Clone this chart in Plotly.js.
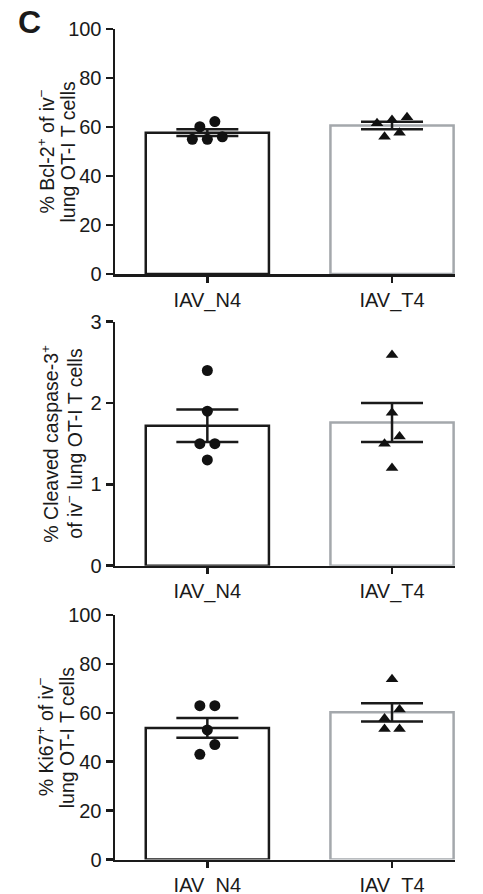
<!DOCTYPE html>
<html>
<head>
<meta charset="utf-8">
<script src="https://cdn.plot.ly/plotly-3.0.1.min.js"></script>
<style>html,body{margin:0;padding:0;background:#fff;}#chart{width:483px;height:894px;}</style>
</head>
<body>
<div id="chart"></div>
<script>
// ---- data ----
const categories = ['IAV_N4', 'IAV_T4'];

const bcl2_N4 = [62.2, 60.1, 56.0, 55.0, 55.0];
const bcl2_T4 = [64.0, 62.9, 61.5, 57.7, 56.0];
const bcl2_mean = [57.7, 60.6];
const bcl2_sem = [1.35, 1.5];

const casp3_N4 = [2.40, 1.90, 1.50, 1.50, 1.30];
const casp3_T4 = [2.59, 1.88, 1.59, 1.50, 1.20];
const casp3_mean = [1.72, 1.76];
const casp3_sem = [0.20, 0.24];

const ki67_N4 = [62.9, 62.9, 53.0, 47.0, 43.0];
const ki67_T4 = [73.7, 61.4, 57.7, 53.4, 53.4];
const ki67_mean = [53.8, 60.2];
const ki67_sem = [4.05, 3.75];

const titleLines = [
  ['% Bcl-2<sup>+</sup> of iv<sup>−</sup>', 'lung OT-I T cells'],
  ['% Cleaved caspase-3<sup>+</sup>', 'of iv<sup>−</sup> lung OT-I T cells'],
  ['% Ki67<sup>+</sup> of iv<sup>−</sup>', 'lung OT-I T cells']
];

// ---- layout constants ----
const W = 483, H = 894;
const INK = '#1a1a1a';
const GREY = '#a4a8ac';
const FONT = 'Arial, "Liberation Sans", Helvetica, sans-serif';
const xDom = [115 / W, 455 / W];
const xRange = [-0.5, 1.341];
const panels = [
  {top: 29, bottom: 274, range: [0, 100], dtick: 20, N4: bcl2_N4, T4: bcl2_T4, mean: bcl2_mean, sem: bcl2_sem, tx: [45, 67]},
  {top: 321.7, bottom: 565.7, range: [0, 3], dtick: 1, N4: casp3_N4, T4: casp3_T4, mean: casp3_mean, sem: casp3_sem, tx: [50, 74]},
  {top: 615, bottom: 859.5, range: [0, 100], dtick: 20, N4: ki67_N4, T4: ki67_T4, mean: ki67_mean, sem: ki67_sem, tx: [45, 67]}
];

// row-based swarm (GraphPad-like): points within one marker diameter share a row, centred
function swarm(vals, pyu, pxu, d, gap) {
  const idx = vals.map((v, i) => i).sort((a, b) => vals[a] - vals[b]);
  const off = new Array(vals.length).fill(0);
  let row = [];
  const flush = () => {
    const n = row.length;
    row.forEach((i, j) => { off[i] = ((j - (n - 1) / 2) * gap) / pxu; });
    row = [];
  };
  let start = null;
  idx.forEach(i => {
    const y = vals[i] * pyu;
    if (start === null || y - start >= d) { flush(); start = y; }
    row.push(i);
  });
  flush();
  return off;
}

const traces = [];
const layout = {
  width: W, height: H,
  margin: {l: 0, r: 0, t: 0, b: 0},
  paper_bgcolor: '#fff', plot_bgcolor: 'rgba(0,0,0,0)',
  showlegend: false,
  font: {family: FONT, color: INK, size: 20},
  annotations: [
    {text: '<b>C</b>', xref: 'paper', yref: 'paper', x: 16 / W, y: 1 - 2 / H,
     xanchor: 'left', yanchor: 'top', showarrow: false, font: {size: 32, family: FONT, color: INK}}
  ]
};

const pxPerUnitX = (xDom[1] - xDom[0]) * W / (xRange[1] - xRange[0]);

panels.forEach((p, k) => {
  const sfx = k === 0 ? '' : String(k + 1);
  const xa = 'x' + sfx, ya = 'y' + sfx;
  const yDom = [1 - p.bottom / H, 1 - p.top / H];
  const pyu = (p.bottom - p.top) / (p.range[1] - p.range[0]);

  layout['xaxis' + sfx] = {
    domain: xDom, range: xRange, anchor: ya,
    tickmode: 'array', tickvals: [0, 1], ticktext: categories,
    showline: true, linewidth: 2.5, linecolor: INK,
    ticks: 'outside', ticklen: 6, tickwidth: 2.5, tickcolor: INK,
    showgrid: false, zeroline: false, fixedrange: true,
    tickfont: {size: 20, family: FONT, color: INK}
  };
  layout['yaxis' + sfx] = {
    domain: yDom, range: p.range, anchor: xa, dtick: p.dtick, tick0: 0,
    showline: true, linewidth: 2.5, linecolor: INK,
    ticks: 'outside', ticklen: 7, tickwidth: 2.5, tickcolor: INK,
    showgrid: false, zeroline: false, fixedrange: true,
    tickfont: {size: 20, family: FONT, color: INK}
  };

  titleLines[k].forEach((line, j) => {
    layout.annotations.push({
      text: line, xref: 'paper', yref: 'paper',
      x: p.tx[j] / W, y: (yDom[0] + yDom[1]) / 2, xanchor: 'center', yanchor: 'middle',
      textangle: -90, showarrow: false,
      font: {size: 19.5, family: FONT, color: INK}
    });
  });

  traces.push({
    type: 'bar', x: [0, 1], y: p.mean, width: 0.667, xaxis: xa, yaxis: ya,
    marker: {color: '#fff', line: {color: [INK, GREY], width: 2.5}},
    error_y: {type: 'data', array: p.sem, visible: true, color: INK, thickness: 2.5, width: 31},
    hoverinfo: 'skip'
  });

  [[p.N4, 'circle', 0, 11], [p.T4, 'triangle-up', 1, 11]].forEach(([vals, sym, c, size]) => {
    const off = swarm(vals, pyu, pxPerUnitX, 10, 15);
    traces.push({
      type: 'scatter', mode: 'markers', xaxis: xa, yaxis: ya,
      x: vals.map((v, i) => c + off[i]), y: vals,
      marker: {symbol: sym, size: size, color: '#111'},
      cliponaxis: false, hoverinfo: 'skip'
    });
  });
});

Plotly.newPlot('chart', traces, layout, {staticPlot: true, displayModeBar: false});
</script>
</body>
</html>
